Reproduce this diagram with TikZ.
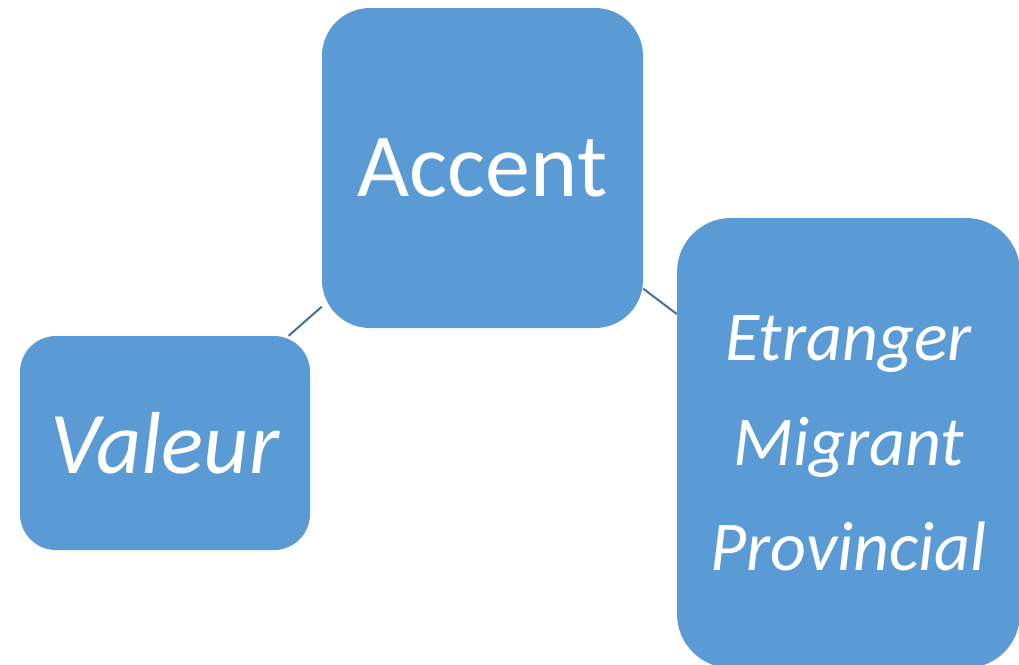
\documentclass[tikz,border=0pt]{standalone}
\usepackage{fontspec}
\setmainfont{Carlito}
\definecolor{boxblue}{HTML}{5B9BD5}
\definecolor{linkblue}{HTML}{41719C}
\begin{document}
\begin{tikzpicture}[x=1pt,y=-1pt,
  card/.style={fill=boxblue, draw=none, text=white, align=center, inner sep=0pt},
  link/.style={draw=linkblue, line width=2pt}]
\useasboundingbox (0,0) rectangle (1019,664);
\node[card, minimum width=321pt, minimum height=320pt, rounded corners=48pt,
  font=\fontsize{90}{100}\selectfont] (accent) at (482.5,168) {Accent};
\node[card, minimum width=290pt, minimum height=214pt, rounded corners=36pt,
  font=\fontsize{88}{100}\selectfont\itshape] (valeur) at (165,443) {Valeur};
\node[card, minimum width=343pt, minimum height=450pt, rounded corners=54pt,
  font=\fontsize{70}{105}\selectfont\itshape] (types) at (848.5,443) {Etranger\\Migrant\\Provincial};
\draw[link] (accent) -- (valeur);
\draw[link] (accent) -- (types);
\end{tikzpicture}
\end{document}
